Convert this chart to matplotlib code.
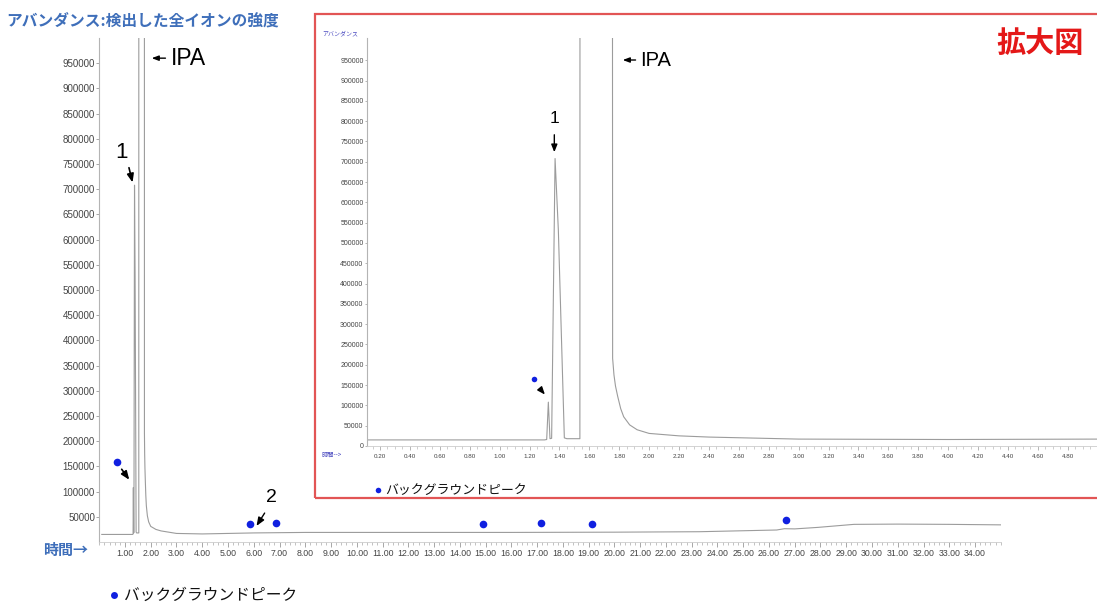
import matplotlib.pyplot as plt
import matplotlib.ticker as mticker
from matplotlib.lines import Line2D
from matplotlib.patches import Rectangle

plt.rcParams['font.family'] = ['Liberation Sans', 'Noto Sans CJK JP', 'DejaVu Sans']
JP = ['Noto Sans CJK JP', 'DejaVu Sans']

# 保持時間(min)と全イオン強度（IPAは振り切れ）
rt = [0.10, 1.300, 1.315, 1.326, 1.337, 1.348, 1.371, 1.393, 1.433, 1.45, 1.537,
      1.538, 1.754, 1.756, 1.765, 1.775, 1.79, 1.81, 1.83, 1.87, 1.92, 2.00, 2.20,
      2.40, 3.00, 4.00, 5.00, 6.00, 8.00, 12.0, 16.0, 20.0, 23.3, 26.3, 26.6, 27.0,
      27.9, 29.3, 31.0, 33.0, 35.0]
abund = [15000, 15000, 16000, 108000, 18000, 19000, 708000, 531000, 20000, 18000, 18000,
         2000000, 2000000, 216000, 175000, 148000, 122000, 92000, 72000, 52000, 40000,
         31000, 25000, 22000, 17000, 16000, 17000, 18000, 19000, 19000, 19000, 19500,
         20400, 23800, 26400, 26000, 29000, 35000, 35500, 35000, 34000]

# バックグラウンドピークの印
bg_rt = [0.68, 5.85, 6.86, 14.89, 17.14, 19.13, 26.66]
bg_ab = [158700, 35100, 37100, 35700, 38300, 35700, 43650]
bg_rt_zoom = [1.227]
bg_ab_zoom = [165000]

main_xticks = list(range(1, 35))
main_yticks = list(range(50000, 950001, 50000))
zoom_xticks = [round(0.2 * i, 2) for i in range(1, 25)]
zoom_yticks = list(range(0, 950001, 50000))

W, H = 1097, 606
fig = plt.figure(figsize=(W / 100, H / 100), dpi=100)


def fx(px):
    return px / W


def fy(py):
    return 1 - py / H


trace_c = '#9c9c9c'
spine_c = '#b4b4b4'
dot_c = '#1020e0'
blue_txt = '#3f6fba'

# ---- 全体図
ax = fig.add_axes([fx(99.2), fy(542), fx(1000.8) - fx(99.2), fy(38) - fy(542)])
ax.plot(rt, abund, color=trace_c, lw=0.8)
ax.plot(bg_rt, bg_ab, 'o', color=dot_c, ms=5.5, mec='none')
ax.set_xlim(0, 35)
ax.set_ylim(0, 1000000)
for s in ['top', 'right']:
    ax.spines[s].set_visible(False)
ax.spines['left'].set_color(spine_c)
ax.spines['bottom'].set_color('#cccccc')
ax.spines['bottom'].set_linewidth(0.6)
ax.set_xticks(main_xticks)
ax.set_xticklabels(['%.2f' % v for v in main_xticks])
ax.xaxis.set_minor_locator(mticker.MultipleLocator(0.2))
ax.set_yticks(main_yticks)
ax.set_yticklabels([str(v) for v in main_yticks])
ax.tick_params(axis='x', which='major', length=3.5, width=0.6, color='#999999',
               labelsize=6.3, labelcolor='#444444', pad=1.5)
ax.tick_params(axis='x', which='minor', length=2, width=0.5, color='#aaaaaa')
ax.tick_params(axis='y', length=2, width=0.6, color='#999999',
               labelsize=7, labelcolor='#444444', pad=1)

ax.text(0.885, 773800, '1', fontsize=16, ha='center', va='center')
ax.annotate('', xy=(1.32, 708000), xytext=(1.13, 748000),
            arrowprops=dict(arrowstyle='-|>,head_length=0.5,head_width=0.2', color='black', lw=1.2))
ax.annotate('', xy=(1.23, 119000), xytext=(0.81, 148800),
            arrowprops=dict(arrowstyle='-|>,head_length=0.5,head_width=0.2', color='black', lw=1.2))
ax.text(6.69, 88000, '2', fontsize=14, ha='center', va='center')
ax.annotate('', xy=(6.05, 27200), xytext=(6.48, 62100),
            arrowprops=dict(arrowstyle='-|>,head_length=0.5,head_width=0.2', color='black', lw=1.0))
ax.annotate('', xy=(1.93, 960000), xytext=(2.68, 960000),
            arrowprops=dict(arrowstyle='-|>,head_length=0.4,head_width=0.15', color='black', lw=1.0))
ax.text(2.78, 960000, 'IPA', fontsize=16.5, ha='left', va='center')

# ---- 拡大図
ax2 = fig.add_axes([fx(367), fy(446), fx(1097) - fx(367), fy(38) - fy(446)])
ax2.set_facecolor('white')
ax2.plot(rt, abund, color=trace_c, lw=0.8)
ax2.plot(bg_rt_zoom, bg_ab_zoom, 'o', color=dot_c, ms=4, mec='none')
ax2.set_xlim(0.113, 4.996)
ax2.set_ylim(0, 1004900)
for s in ['top', 'right']:
    ax2.spines[s].set_visible(False)
ax2.spines['left'].set_color(spine_c)
ax2.spines['bottom'].set_color('#cccccc')
ax2.spines['bottom'].set_linewidth(0.6)
ax2.set_xticks(zoom_xticks)
ax2.set_xticklabels(['%.2f' % v for v in zoom_xticks])
ax2.xaxis.set_minor_locator(mticker.MultipleLocator(0.05))
ax2.set_yticks(zoom_yticks)
ax2.set_yticklabels([str(v) for v in zoom_yticks])
ax2.tick_params(axis='x', which='major', length=3, width=0.5, color='#999999',
                labelsize=4.5, labelcolor='#444444', pad=2.5)
ax2.tick_params(axis='x', which='minor', length=1.8, width=0.4, color='#aaaaaa')
ax2.tick_params(axis='y', length=1.5, width=0.5, color='#999999',
                labelsize=5, labelcolor='#444444', pad=1)

ax2.text(1.366, 807000, '1', fontsize=12.5, ha='center', va='center')
ax2.annotate('', xy=(1.366, 716700), xytext=(1.366, 773400),
             arrowprops=dict(arrowstyle='-|>,head_length=0.45,head_width=0.18', color='black', lw=1.0))
ax2.annotate('', xy=(1.315, 121400), xytext=(1.259, 146000),
             arrowprops=dict(arrowstyle='-|>,head_length=0.45,head_width=0.18', color='black', lw=1.0))
ax2.annotate('', xy=(1.805, 950700), xytext=(1.928, 950700),
             arrowprops=dict(arrowstyle='-|>,head_length=0.4,head_width=0.15', color='black', lw=1.0))
ax2.text(1.94, 950700, 'IPA', fontsize=14.5, ha='left', va='center')

# 赤枠
fig.add_artist(Rectangle((fx(315), fy(498)), fx(1100) - fx(315), fy(14) - fy(498),
                         transform=fig.transFigure, fill=False, ec='#e25555', lw=1.6,
                         clip_on=False, zorder=5))

# ---- 文字
fig.text(fx(6), fy(22), 'アバンダンス:検出した全イオンの強度', family=JP, fontsize=11.3,
         fontweight='bold', color=blue_txt, ha='left', va='center')
fig.text(fx(43), fy(550), '時間→', family=JP, fontsize=10.8, fontweight='bold',
         color=blue_txt, ha='left', va='center')
fig.text(fx(1040), fy(43), '拡大図', family=JP, fontsize=21, fontweight='bold',
         color='#e41818', ha='center', va='center')
fig.text(fx(322), fy(34), 'アバンダンス', family=JP, fontsize=4.3, color='#4a4ac0',
         ha='left', va='center')
fig.text(fx(321), fy(455), '時間-->', family=JP, fontsize=4.5, color='#4a4ac0',
         ha='left', va='center')

fig.add_artist(Line2D([fx(114)], [fy(595)], marker='o', ms=5, color=dot_c, mec='none',
                      transform=fig.transFigure))
fig.text(fx(124), fy(595), 'バックグラウンドピーク', family=JP, fontsize=11.3,
         color='#111111', ha='left', va='center')
fig.add_artist(Line2D([fx(377.7)], [fy(490)], marker='o', ms=4, color=dot_c, mec='none',
                      transform=fig.transFigure))
fig.text(fx(385), fy(490), 'バックグラウンドピーク', family=JP, fontsize=9.3,
         color='#111111', ha='left', va='center')

fig.savefig('out.png', dpi=100)
